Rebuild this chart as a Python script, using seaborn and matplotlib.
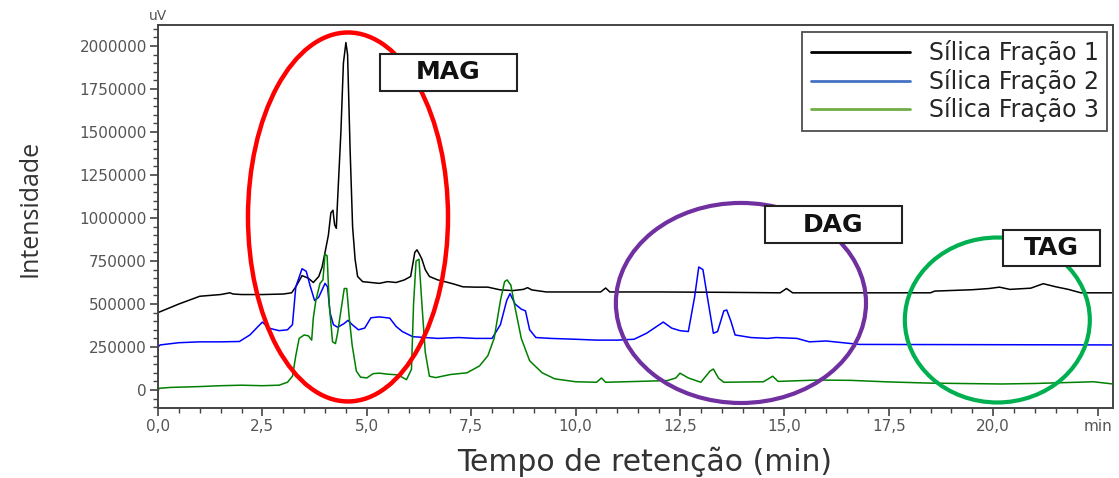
"""
Cromatograma HPLC - frações de sílica (MAG / DAG / TAG).
Saída: out.png
"""

import matplotlib.pyplot as plt
import numpy as np
import pandas as pd
import seaborn as sns
from matplotlib.lines import Line2D
from matplotlib.patches import Ellipse, Rectangle
from matplotlib.ticker import MultipleLocator, FixedLocator, FixedFormatter

# ─────────────────────────────────────────────────────────────
# Dados (lidos do cromatograma)
# ─────────────────────────────────────────────────────────────

series_names = ["Sílica Fração 1", "Sílica Fração 2", "Sílica Fração 3"]

t_frac1 = [0.0, 0.0, 0.05, 0.5, 1.0, 1.5, 1.72, 1.8, 2.0, 2.5, 3.0, 3.2, 3.3, 3.45,
           3.6, 3.72, 3.85, 3.93, 4.0, 4.08, 4.14, 4.19, 4.23, 4.27, 4.3, 4.38, 4.44,
           4.5, 4.54, 4.6, 4.66, 4.72, 4.78, 4.9, 5.1, 5.3, 5.5, 5.7, 5.9, 6.05, 6.15,
           6.2, 6.26, 6.32, 6.4, 6.5, 6.7, 6.9, 7.1, 7.3, 7.6, 7.9, 8.2, 8.5, 8.75,
           8.85, 8.95, 9.3, 10.6, 10.72, 10.82, 12.0, 13.5, 14.9, 15.05, 15.2, 18.5,
           18.6, 19.5, 19.9, 20.15, 20.4, 20.9, 21.2, 21.5, 21.8, 22.1, 22.87]
v_frac1 = [390000, 450000, 455000, 500000, 545000, 555000, 565000, 558000, 555000,
           555000, 558000, 565000, 600000, 665000, 650000, 625000, 660000, 715000,
           800000, 900000, 1030000, 1045000, 960000, 940000, 1100000, 1500000,
           1900000, 2020000, 1950000, 1400000, 950000, 760000, 660000, 630000, 625000,
           620000, 630000, 625000, 640000, 660000, 800000, 815000, 790000, 760000,
           700000, 660000, 640000, 628000, 615000, 600000, 598000, 598000, 582000,
           578000, 585000, 595000, 582000, 570000, 570000, 593000, 570000, 570000,
           568000, 565000, 590000, 565000, 565000, 575000, 583000, 590000, 598000,
           585000, 592000, 618000, 600000, 585000, 565000, 565000]

t_frac2 = [0.0, 0.0, 0.05, 0.5, 1.0, 1.5, 1.95, 2.2, 2.5, 2.65, 2.9, 3.1, 3.22, 3.3,
           3.45, 3.55, 3.65, 3.75, 3.85, 4.0, 4.06, 4.12, 4.2, 4.3, 4.45, 4.55, 4.65,
           4.8, 4.95, 5.1, 5.3, 5.55, 5.7, 5.85, 6.1, 6.4, 6.7, 7.2, 7.6, 8.0, 8.2,
           8.35, 8.43, 8.55, 8.7, 8.8, 8.9, 9.05, 9.4, 10.0, 10.5, 11.0, 11.4, 11.7,
           12.1, 12.3, 12.5, 12.7, 12.85, 12.95, 13.05, 13.17, 13.3, 13.4, 13.55,
           13.62, 13.72, 13.82, 14.2, 14.6, 14.8, 15.3, 15.6, 16.0, 16.2, 16.8, 22.87]
v_frac2 = [110000, 250000, 262000, 275000, 280000, 280000, 282000, 320000, 395000,
           360000, 345000, 350000, 380000, 600000, 705000, 690000, 600000, 520000,
           540000, 620000, 600000, 450000, 380000, 365000, 385000, 405000, 380000,
           350000, 360000, 420000, 425000, 418000, 370000, 340000, 310000, 305000,
           300000, 305000, 300000, 300000, 380000, 520000, 560000, 500000, 470000,
           460000, 350000, 305000, 300000, 295000, 290000, 290000, 295000, 330000,
           395000, 360000, 345000, 340000, 540000, 715000, 700000, 520000, 330000,
           340000, 460000, 465000, 400000, 320000, 305000, 300000, 305000, 300000,
           280000, 285000, 280000, 265000, 262000]

t_frac3 = [0.0, 0.02, 0.3, 1.0, 1.5, 2.0, 2.5, 2.9, 3.1, 3.22, 3.3, 3.38, 3.5, 3.6,
           3.68, 3.72, 3.78, 3.88, 3.95, 4.0, 4.05, 4.1, 4.18, 4.25, 4.3, 4.38, 4.46,
           4.52, 4.58, 4.65, 4.75, 4.85, 5.0, 5.15, 5.3, 5.5, 5.75, 5.95, 6.07, 6.12,
           6.18, 6.25, 6.32, 6.4, 6.5, 6.65, 7.0, 7.4, 7.7, 7.9, 8.05, 8.2, 8.3, 8.36,
           8.45, 8.55, 8.7, 8.9, 9.2, 9.5, 10.0, 10.5, 10.62, 10.72, 11.5, 12.2, 12.4,
           12.5, 12.7, 13.0, 13.22, 13.3, 13.42, 13.55, 14.5, 14.72, 14.85, 15.8, 16.6,
           17.5, 18.5, 20.2, 21.0, 22.0, 22.4, 22.87]
v_frac3 = [-15000, 10000, 15000, 20000, 25000, 28000, 25000, 28000, 45000, 80000,
           200000, 300000, 320000, 315000, 290000, 420000, 520000, 620000, 640000,
           790000, 780000, 500000, 280000, 270000, 330000, 460000, 590000, 590000,
           420000, 260000, 110000, 75000, 70000, 95000, 98000, 92000, 88000, 60000,
           120000, 500000, 750000, 760000, 500000, 220000, 80000, 72000, 90000, 100000,
           140000, 200000, 300000, 520000, 630000, 640000, 610000, 480000, 300000,
           170000, 100000, 65000, 48000, 45000, 70000, 45000, 50000, 55000, 70000,
           98000, 70000, 45000, 110000, 122000, 70000, 45000, 48000, 80000, 50000,
           58000, 56000, 47000, 40000, 35000, 38000, 45000, 48000, 35000]

x_ticks = [0.0, 2.5, 5.0, 7.5, 10.0, 12.5, 15.0, 17.5, 20.0, 22.5]
x_ticklabels = ["0,0", "2,5", "5,0", "7,5", "10,0", "12,5", "15,0", "17,5", "20,0", "min"]
y_ticks = [0, 250000, 500000, 750000, 1000000, 1250000, 1500000, 1750000, 2000000]

group_labels = ["MAG", "DAG", "TAG"]

# ─────────────────────────────────────────────────────────────
# Estilo
# ─────────────────────────────────────────────────────────────

LINE_COLORS = {series_names[0]: "#000000", series_names[1]: "#0000FF", series_names[2]: "#008000"}
LEGEND_COLORS = ["#000000", "#4472C4", "#70AD47"]
AX_GRAY = "#444444"
TICK_GRAY = "#555555"

sns.set_theme(style="white")
plt.rcParams["font.family"] = ["DejaVu Sans"]

df = pd.concat([
    pd.DataFrame({"t": t, "v": v, "serie": name})
    for name, t, v in zip(series_names, [t_frac1, t_frac2, t_frac3], [v_frac1, v_frac2, v_frac3])
], ignore_index=True)

fig = plt.figure(figsize=(11.19, 4.78), dpi=100)
fig.patch.set_facecolor("white")
ax = fig.add_axes([158 / 1119, 1 - 408 / 478, 955 / 1119, 383 / 478])

sns.lineplot(data=df, x="t", y="v", hue="serie", palette=LINE_COLORS,
             estimator=None, sort=False, lw=1.1, legend=False, ax=ax)

ax.set_xlim(0, 22.87)
ax.set_ylim(-104600, 2122000)

# eixos
for sp in ax.spines.values():
    sp.set_color(AX_GRAY)
    sp.set_linewidth(1.4)
ax.xaxis.set_major_locator(FixedLocator(x_ticks))
ax.xaxis.set_major_formatter(FixedFormatter(x_ticklabels))
ax.xaxis.set_minor_locator(MultipleLocator(0.5))
ax.yaxis.set_major_locator(FixedLocator(y_ticks))
ax.yaxis.set_minor_locator(MultipleLocator(50000))
ax.yaxis.set_major_formatter(plt.FuncFormatter(lambda v, _: f"{int(v)}"))
ax.tick_params(which="major", direction="out", length=6, width=1.2, color=AX_GRAY,
               labelsize=11, labelcolor=TICK_GRAY, pad=2, bottom=True, left=True)
ax.tick_params(which="minor", direction="out", length=3.5, width=1.0, color=AX_GRAY,
               bottom=True, left=True)
ax.set_xlabel("")
ax.set_ylabel("")

ax.text(0.0, 1.005, "uV", transform=ax.transAxes, ha="center", va="bottom",
        fontsize=10, color=TICK_GRAY)

fig.text(30 / 1119, 1 - 208 / 478, "Intensidade", rotation=90, ha="center", va="center",
         fontsize=18, color="#333333", family=["Open Sans", "DejaVu Sans"])
fig.text(645 / 1119, 1 - 462 / 478, "Tempo de retenção (min)", ha="center", va="center",
         fontsize=21.5, color="#333333", family=["DejaVu Sans"])

# regiões destacadas
ax.add_patch(Ellipse((4.55, 1006000), 4.79, 2145000, fill=False, ec="#FF0000", lw=3.2, zorder=5))
ax.add_patch(Ellipse((13.96, 506000), 5.99, 1163000, fill=False, ec="#7030A0", lw=3.0, zorder=5))
ax.add_patch(Ellipse((20.1, 407000), 4.43, 959000, fill=False, ec="#00B050", lw=3.0, zorder=5))

boxes = [(0.2325, 0.8277, 0.1434, 0.0966),
         (0.6356, 0.4308, 0.1435, 0.0966),
         (0.8848, 0.3708, 0.1016, 0.0940)]
for label, (bx, by, bw, bh) in zip(group_labels, boxes):
    ax.add_patch(Rectangle((bx, by), bw, bh, transform=ax.transAxes, fc="white",
                           ec="#222222", lw=1.5, zorder=6))
    ax.text(bx + bw / 2, by + bh / 2, label, transform=ax.transAxes, ha="center",
            va="center", fontsize=18, fontweight="bold", color="#111111", zorder=7)

handles = [Line2D([0], [0], color=c, lw=2) for c in LEGEND_COLORS]
leg = ax.legend(handles, series_names, loc="upper right",
                bbox_to_anchor=(0.9937, 0.9817), frameon=True, fancybox=False,
                handlelength=4.2, handletextpad=0.8, labelspacing=0.15,
                borderpad=0.35, borderaxespad=0,
                prop={"family": ["DejaVu Sans"], "size": 17})
leg.get_frame().set_edgecolor("#222222")
leg.get_frame().set_linewidth(1.3)
leg.set_zorder(8)

fig.savefig("out.png", dpi=100, facecolor="white")
